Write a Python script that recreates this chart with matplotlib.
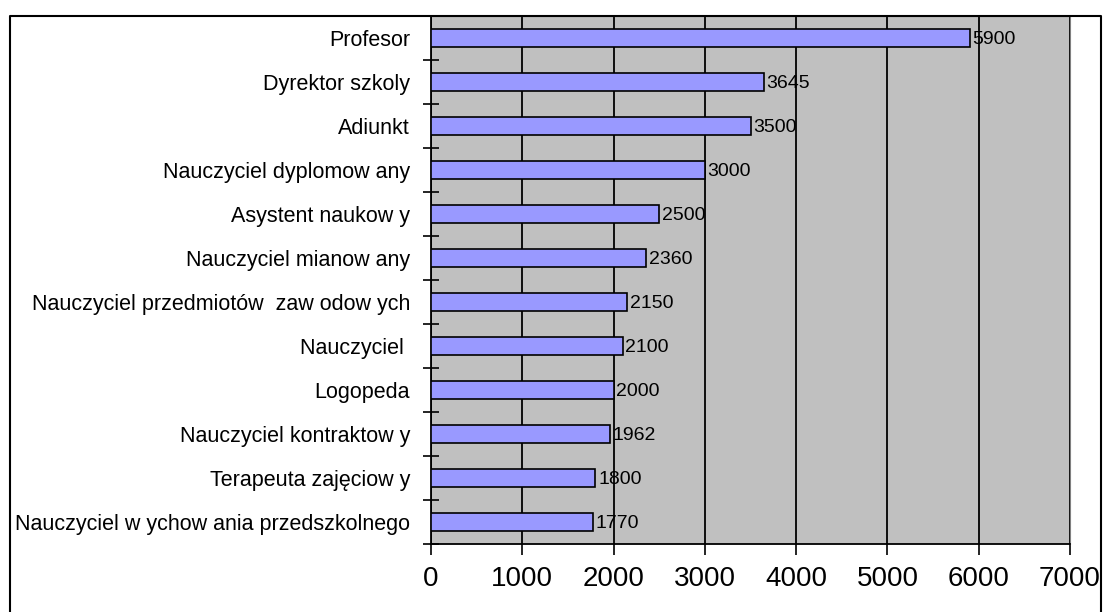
import matplotlib.pyplot as plt
from matplotlib.lines import Line2D

plt.rcParams['font.family'] = ['Liberation Sans', 'DejaVu Sans']

# data, top to bottom as in the chart
jobs = ["Profesor", "Dyrektor szkoly", "Adiunkt", "Nauczyciel dyplomow any",
        "Asystent naukow y", "Nauczyciel mianow any",
        "Nauczyciel przedmiotów  zaw odow ych", "Nauczyciel ", "Logopeda",
        "Nauczyciel kontraktow y", "Terapeuta zajęciow y",
        "Nauczyciel w ychow ania przedszkolnego"]
pay = [5900, 3645, 3500, 3000, 2500, 2360, 2150, 2100, 2000, 1962, 1800, 1770]
xticks = [0, 1000, 2000, 3000, 4000, 5000, 6000, 7000]

W, H = 1103, 612
fig = plt.figure(figsize=(W / 100, H / 100), dpi=100)
ax = fig.add_axes([431 / W, 1 - 544 / H, (1070 - 431) / W, (544 - 16) / H])

pos = list(range(len(jobs)))
ax.barh(pos, pay, height=0.41, color='#9999FF', edgecolor='black',
        linewidth=1.2, zorder=3)
for p, v in zip(pos, pay):
    ax.text(v + 30, p, str(v), va='center_baseline', ha='left', fontsize=14, zorder=4)

ax.set_facecolor('#C0C0C0')
ax.set_xlim(0, 7000)
ax.set_ylim(len(jobs) - 0.5, -0.5)
ax.set_xticks(xticks)
ax.set_xticklabels([str(t) for t in xticks], fontsize=20)
ax.set_yticks(pos)
ax.set_yticklabels(jobs, fontsize=15.5)
ax.set_yticks([p + 0.5 for p in [-1] + pos], minor=True)
ax.tick_params(axis='y', which='major', length=0, pad=15)
ax.tick_params(axis='y', which='minor', direction='inout', length=12, width=1.2)
ax.tick_params(axis='x', direction='out', length=8, width=1.2, pad=8)
ax.grid(axis='x', color='black', linewidth=1.3, zorder=1)
ax.set_axisbelow(True)

ax.spines['left'].set_linewidth(1.3)
ax.spines['bottom'].set_linewidth(1.3)
ax.spines['top'].set_color('#808080')
ax.spines['right'].set_color('#808080')

# outer chart border (bottom edge is cut off in the original)
x0, x1, yt = 9.5 / W, 1101 / W, 1 - 15.5 / H
fig.add_artist(Line2D([x0, x0, x1, x1], [0, yt, yt, 0], color='black',
                      linewidth=1.5, transform=fig.transFigure))

fig.savefig('out.png', dpi=100)
